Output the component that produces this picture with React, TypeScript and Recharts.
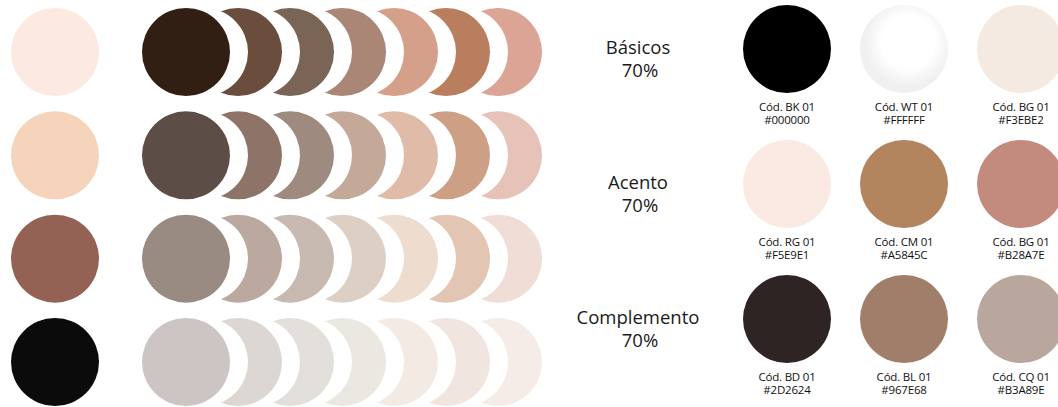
import { Scatter, ScatterChart, XAxis, YAxis } from "recharts";

// left palette: base tone per row + 7 shades drawn as overlapping moons
const baseColors = ["#FCE9E1", "#F6D3BB", "#936254", "#0B0B0B"];

const shadeRows = [
  ["#321F13", "#6A4D3D", "#7A6456", "#A98675", "#D4A089", "#B87E5E", "#DCA494"],
  ["#5C4E46", "#8E7468", "#9E8A7F", "#C4A898", "#E0BCA8", "#CDA086", "#E6C2B8"],
  ["#998A82", "#BBA99F", "#C8B9B1", "#DDCFC4", "#EEDCCF", "#E2C5B3", "#F0DDD6"],
  ["#CCC5C3", "#DDD7D3", "#E3DFDA", "#EBE8E2", "#F4EAE4", "#F0E6DF", "#F6ECE7"],
];

// right side: color codes grouped by use
const codeGroups = ["Básicos", "Acento", "Complemento"];
const groupShare = ["70%", "70%", "70%"];
const codeNames = [
  ["BK 01", "WT 01", "BG 01"],
  ["RG 01", "CM 01", "BG 01"],
  ["BD 01", "BL 01", "CQ 01"],
];
const codeHex = [
  ["#000000", "#FFFFFF", "#F3EBE2"],
  ["#F5E9E1", "#A5845C", "#B28A7E"],
  ["#2D2624", "#967E68", "#B3A89E"],
];
const codeFill = [
  ["#000000", "url(#whiteSheen)", "#F4EAE1"],
  ["#FBEAE3", "#B3855F", "#C38A7E"],
  ["#2E2424", "#A17E6A", "#B9A79E"],
];

const R = 44;
const FONT = "'Open Sans', sans-serif";

const baseData = baseColors.map((color, row) => ({ col: 0, row, color }));

// drawn right to left so each moon is cut by its left neighbour
const shadeData = shadeRows
  .flatMap((colors, row) => colors.map((color, col) => ({ col, row, color })))
  .sort((a, b) => b.col - a.col);

const codeData = codeNames.flatMap((names, row) =>
  names.map((name, col) => ({
    col,
    row,
    name,
    hex: codeHex[row][col],
    fill: codeFill[row][col],
  }))
);

function BaseDot(props: any) {
  const { cx, cy, payload } = props;
  return <circle cx={cx} cy={cy} r={R} fill={payload.color} />;
}

function MoonDot(props: any) {
  const { cx, cy, payload } = props;
  return (
    <g>
      <circle cx={cx} cy={cy} r={R} fill={payload.color} />
      {payload.col > 0 && <circle cx={cx - 34} cy={cy} r={R} fill="#ffffff" />}
    </g>
  );
}

function CodeDot(props: any) {
  const { cx, cy, payload } = props;
  return (
    <g>
      <defs>
        <radialGradient id="whiteSheen" cx="0.55" cy="0.42" r="0.5">
          <stop offset="0.6" stopColor="#ffffff" />
          <stop offset="1" stopColor="#f0f0f0" />
        </radialGradient>
      </defs>
      <circle cx={cx} cy={cy} r={R} fill={payload.fill} />
      <text
        x={cx}
        y={cy + 62}
        textAnchor="middle"
        fontFamily={FONT}
        fontSize={11.5}
        letterSpacing={-0.2}
        fill="#111"
      >
        {`Cód. ${payload.name}`}
      </text>
      <text
        x={cx}
        y={cy + 75}
        textAnchor="middle"
        fontFamily={FONT}
        fontSize={11.5}
        letterSpacing={-0.2}
        fill="#111"
      >
        {payload.hex}
      </text>
    </g>
  );
}

function GroupTick(props: any) {
  const { x, y, payload } = props;
  const i = payload.value;
  return (
    <g>
      <text x={x} y={y + 5} textAnchor="middle" fontFamily={FONT} fontSize={18.5} fill="#1a1a1a">
        {codeGroups[i]}
      </text>
      <text x={x + 2} y={y + 28} textAnchor="middle" fontFamily={FONT} fontSize={18.5} fill="#1a1a1a">
        {groupShare[i]}
      </text>
    </g>
  );
}

export default function App() {
  return (
    <div style={{ position: "absolute", left: 0, top: 0, display: "flex", background: "#fff" }}>
      <ScatterChart width={560} height={407} margin={{ top: 0, right: 0, bottom: 0, left: 0 }}>
        <XAxis xAxisId="base" dataKey="col" type="number" domain={[0, 1]} hide padding={{ left: 55, right: 0 }} />
        <XAxis xAxisId="shade" dataKey="col" type="number" domain={[0, 6]} hide padding={{ left: 186, right: 62 }} />
        <YAxis yAxisId="row" dataKey="row" type="number" domain={[0, 3]} reversed hide padding={{ top: 52, bottom: 45 }} />
        <Scatter data={baseData} xAxisId="base" yAxisId="row" shape={BaseDot} isAnimationActive={false} />
        <Scatter data={shadeData} xAxisId="shade" yAxisId="row" shape={MoonDot} isAnimationActive={false} />
      </ScatterChart>
      <ScatterChart width={498} height={407} margin={{ top: 0, right: 0, bottom: 0, left: 0 }}>
        <XAxis dataKey="col" type="number" domain={[0, 2]} hide padding={{ left: 67, right: 37 }} />
        <YAxis
          dataKey="row"
          type="number"
          domain={[0, 2]}
          ticks={[0, 1, 2]}
          interval={0}
          reversed
          width={160}
          axisLine={false}
          tickLine={false}
          tickSize={0}
          tickMargin={82}
          tick={GroupTick}
          padding={{ top: 49, bottom: 88 }}
        />
        <Scatter data={codeData} shape={CodeDot} isAnimationActive={false} />
      </ScatterChart>
    </div>
  );
}
